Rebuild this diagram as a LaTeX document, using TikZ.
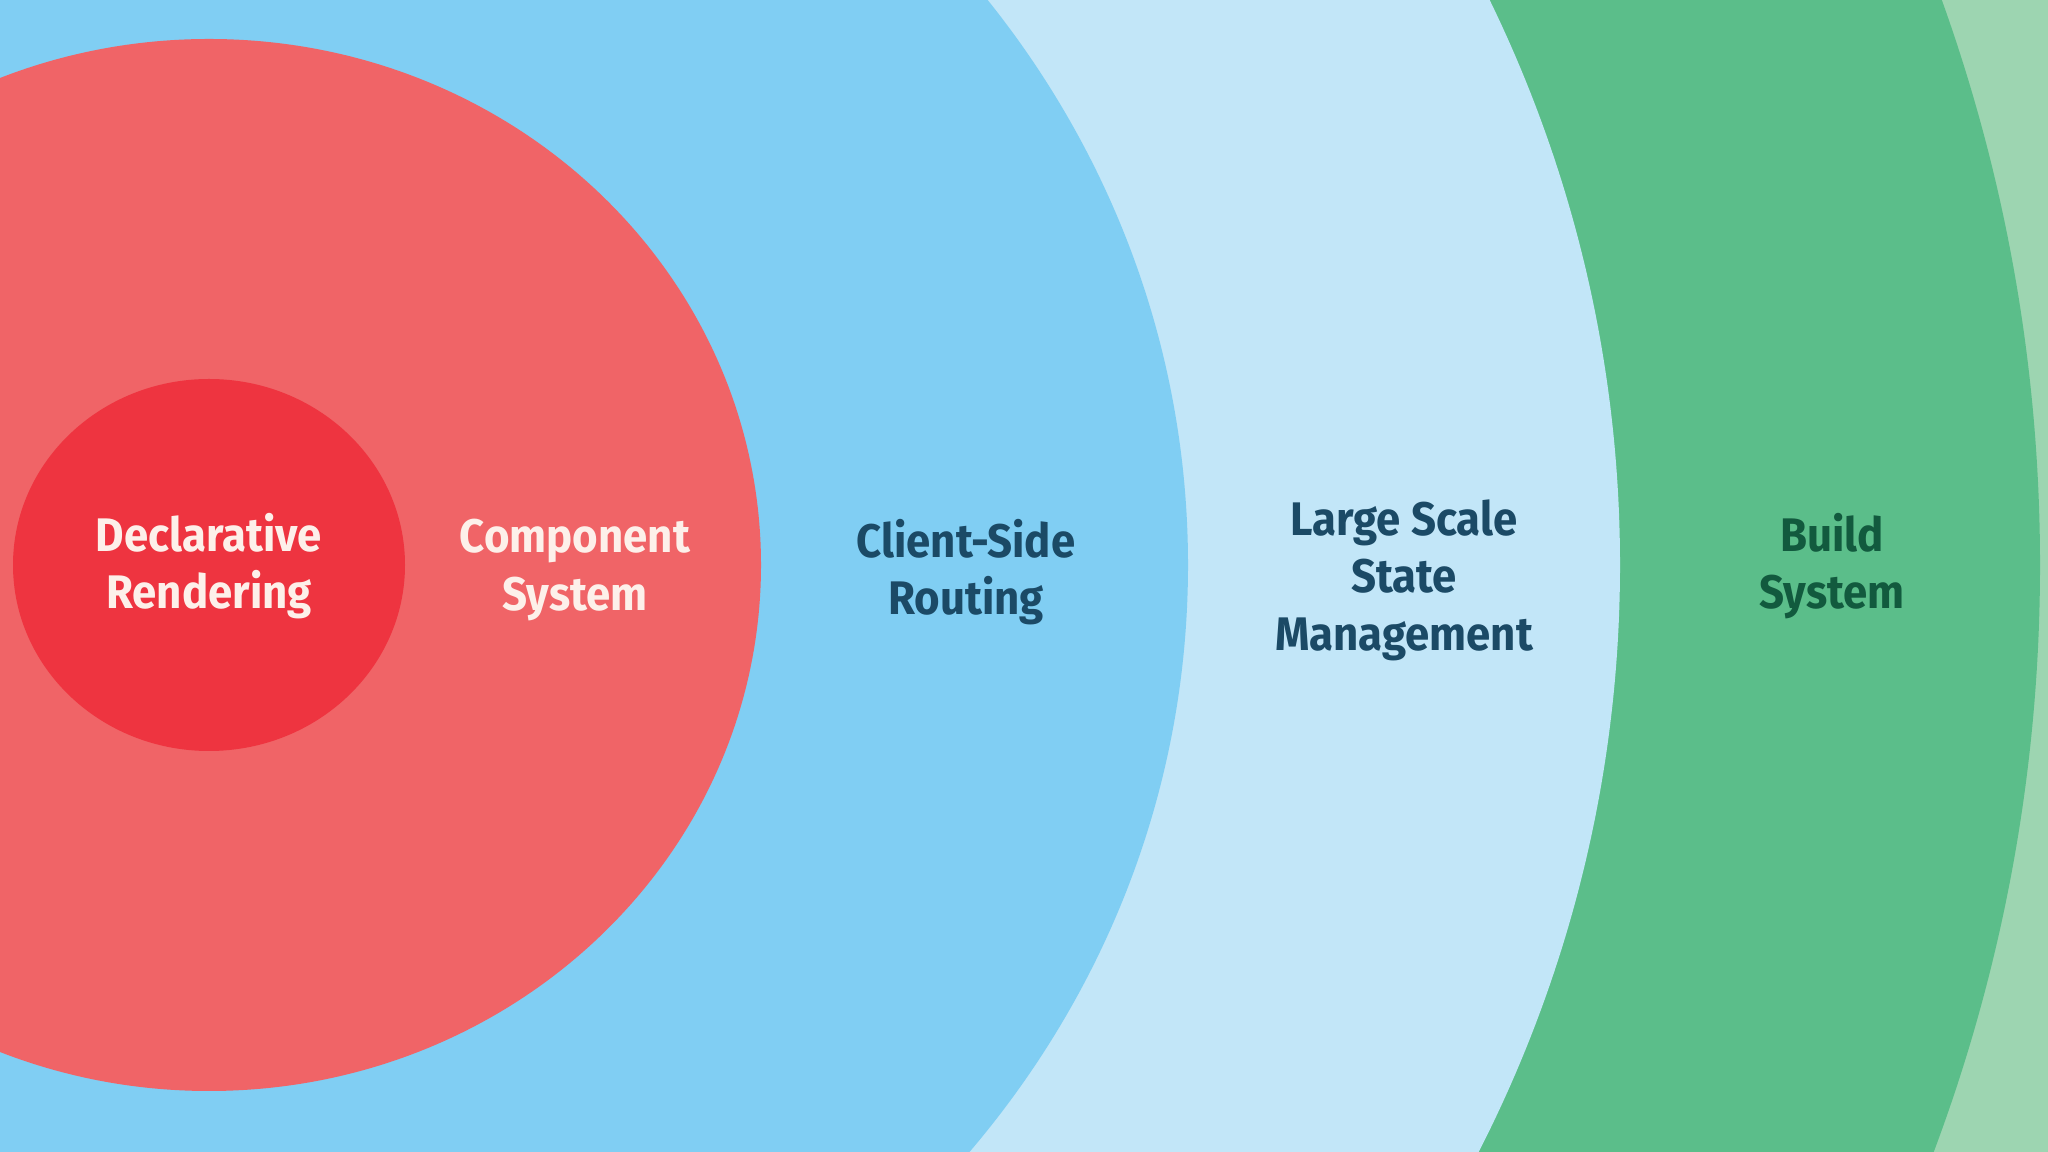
\documentclass[tikz,border=0pt]{standalone}
\usepackage{fontspec}
\setmainfont{Fira Sans}[FakeStretch=0.93]
\usepackage{tikz}
\definecolor{coreRed}{HTML}{EE3440}
\definecolor{ringRed}{HTML}{F06467}
\definecolor{ringBlue}{HTML}{80CEF3}
\definecolor{paleBlue}{HTML}{C2E6F8}
\definecolor{ringGreen}{HTML}{5BBE8A}
\definecolor{paleGreen}{HTML}{9DD5B1}
\definecolor{navyText}{HTML}{1B4A66}
\definecolor{greenText}{HTML}{125A3E}
\definecolor{creamText}{HTML}{FDF0EA}
\tikzset{
  layer/.style={align=center,font=\fontsize{13.4}{16.4}\selectfont\bfseries},
}
\begin{document}
\begin{tikzpicture}[x=0.1mm,y=-0.1mm]
    \useasboundingbox (0,0) rectangle (2048,1152);
    \clip (0,0) rectangle (2048,1152);
    % rings, outermost first
    \fill[paleGreen] (0,0) rectangle (2048,1152);
    \fill[ringGreen] (209,565) ellipse [x radius=1831,y radius=1744];
    \fill[paleBlue] (209,565) ellipse [x radius=1411,y radius=1344];
    \fill[ringBlue] (209,565) ellipse [x radius=979,y radius=932];
    \fill[ringRed] (209,565) ellipse [x radius=552,y radius=526];
    \fill[coreRed] (209,565) ellipse [x radius=196,y radius=186];
    % labels
    \node[layer,text=creamText] (declarative) at (209,566) {Declarative\\Rendering};
    \node[layer,text=creamText] (component) at (575,570) {Component\\System};
    \node[layer,text=navyText] (routing) at (966,572) {Client-Side\\Routing};
    \node[layer,text=navyText] (state) at (1404,580) {Large Scale\\State\\Management};
    \node[layer,text=greenText] (build) at (1832,566) {Build\\System};
\end{tikzpicture}
\end{document}
